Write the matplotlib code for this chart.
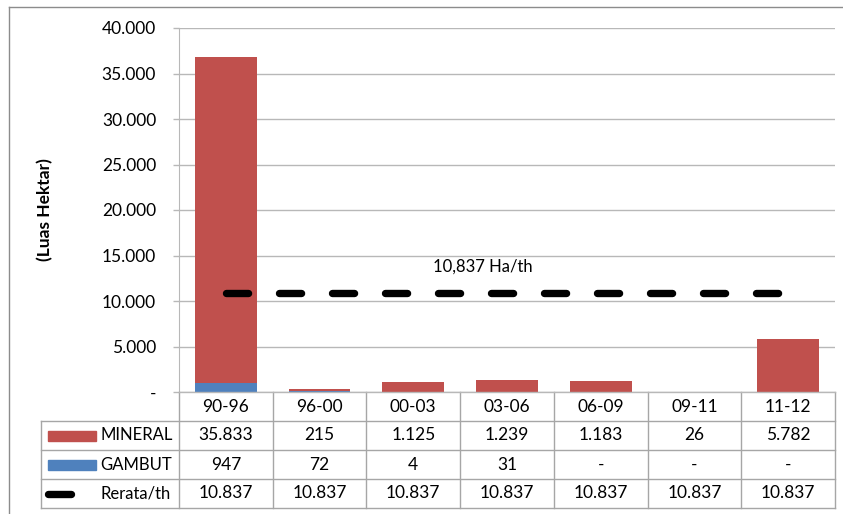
import matplotlib
matplotlib.use('Agg')
import matplotlib.pyplot as plt
from matplotlib.lines import Line2D
from matplotlib.patches import Rectangle
from matplotlib.ticker import FuncFormatter

plt.rcParams['font.family'] = ['Lato', 'DejaVu Sans']

periods = ['90-96', '96-00', '00-03', '03-06', '06-09', '09-11', '11-12']
mineral = [35833, 215, 1125, 1239, 1183, 26, 5782]
gambut = [947, 72, 4, 31, 0, 0, 0]
rerata = [10837] * 7
row_names = ['MINERAL', 'GAMBUT', 'Rerata/th']

red = '#C0504D'
blue = '#4F81BD'
grid_c = '#b8b8b8'
table_c = '#a6a6a6'

W, H = 843, 514
fig = plt.figure(figsize=(W / 100, H / 100), dpi=100)


def fx(px):
    return px / W


def fy(py):
    return (H - py) / H


ax = fig.add_axes([fx(179), fy(392), fx(835) - fx(179), fy(28) - fy(392)])

x = list(range(len(periods)))
ax.bar(x, gambut, width=0.66, color=blue, zorder=2)
ax.bar(x, mineral, width=0.66, bottom=gambut, color=red, zorder=2)
ax.plot(x, rerata, color='black', lw=5.3, dashes=(3.0, 4.2),
        dash_capstyle='round', solid_capstyle='round', zorder=3)

label = f"{rerata[0] / 1000:.3f}".replace('.', ',') + ' Ha/th'
ax.text(2.74, rerata[0] + 2900, label, ha='center', va='center', fontsize=12)

ax.set_xlim(-0.5, len(periods) - 0.5)
ax.set_ylim(0, 40000)
ax.set_yticks(range(0, 40001, 5000))


def thousands(v, pos=None):
    v = int(round(v))
    if v == 0:
        return '-'
    return f"{v:,}".replace(',', '.')


ax.yaxis.set_major_formatter(FuncFormatter(thousands))
ax.tick_params(axis='y', length=4.5, width=1, color=grid_c, labelsize=12.5, pad=12)
ax.tick_params(axis='x', length=0, labelbottom=False)
ax.grid(axis='y', color=grid_c, lw=1, zorder=0)
for s in ['top', 'right', 'bottom']:
    ax.spines[s].set_visible(False)
ax.spines['left'].set_color(grid_c)

# axis title, centred on the plot height
fig.text(fx(45), (fy(28) + fy(392)) / 2, '(Luas Hektar)', rotation=90,
         ha='center', va='center', fontsize=12.5, fontweight='bold')

# data table under the plot
rows_px = [392, 421, 450, 479, 508]
col_w = (835 - 179) / len(periods)
col_edges = [179 + i * col_w for i in range(len(periods) + 1)]
for cx in col_edges:
    fig.add_artist(Line2D([fx(cx)] * 2, [fy(392), fy(508)], color=table_c, lw=1))
fig.add_artist(Line2D([fx(179), fx(835)], [fy(392)] * 2, color=grid_c, lw=1))
for ry in rows_px[1:]:
    fig.add_artist(Line2D([fx(41), fx(835)], [fy(ry)] * 2, color=table_c, lw=1))
fig.add_artist(Line2D([fx(41)] * 2, [fy(421), fy(508)], color=table_c, lw=1))

centers = [(col_edges[i] + col_edges[i + 1]) / 2 for i in range(len(periods))]
row_mid = [(rows_px[i] + rows_px[i + 1]) / 2 for i in range(4)]

for cx, p in zip(centers, periods):
    fig.text(fx(cx), fy(row_mid[0]), p, ha='center', va='center', fontsize=12.5)
for r, series in enumerate([mineral, gambut, rerata]):
    for cx, v in zip(centers, series):
        fig.text(fx(cx), fy(row_mid[r + 1]), thousands(v), ha='center', va='center',
                 fontsize=12.5)

# row keys
for r, c in enumerate([red, blue]):
    ym = row_mid[r + 1]
    fig.add_artist(Rectangle((fx(48), fy(ym + 5)), fx(96) - fx(48), fy(ym - 5) - fy(ym + 5),
                             color=c))
    fig.text(fx(100), fy(ym), row_names[r], ha='left', va='center', fontsize=12)
fig.add_artist(Line2D([fx(48), fx(71)], [fy(row_mid[3])] * 2, color='black', lw=5.3,
                      solid_capstyle='round'))
fig.text(fx(101), fy(row_mid[3]), row_names[2], ha='left', va='center', fontsize=12)

# outer chart frame
fig.add_artist(Line2D([fx(9), fx(9)], [fy(7), 0], color='#8c8c8c', lw=1))
fig.add_artist(Line2D([fx(9), 1], [fy(7), fy(7)], color='#8c8c8c', lw=1))

fig.savefig('out.png', dpi=100)
